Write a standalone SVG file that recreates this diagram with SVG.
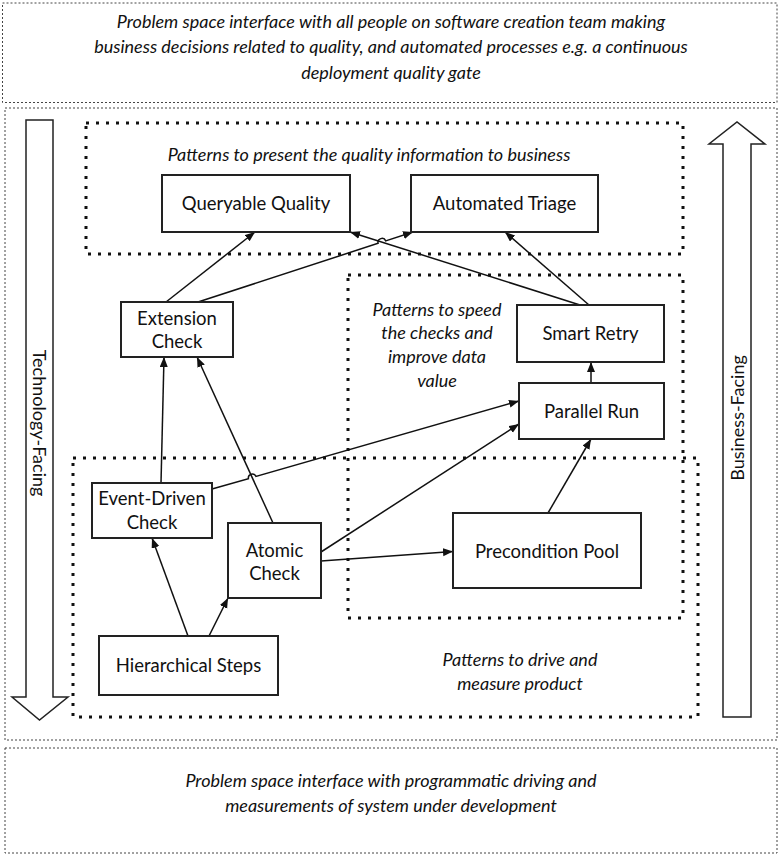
<svg xmlns="http://www.w3.org/2000/svg" width="781" height="858" viewBox="0 0 781 858">
<style>
.fine{fill:none;stroke:#444;stroke-width:1;stroke-dasharray:2 2}
.heavy{fill:none;stroke:#111;stroke-width:3;stroke-dasharray:3 7}
.node rect{fill:#fff;stroke:#222;stroke-width:2}
.node text{font-family:Lato,"Open Sans",sans-serif;font-size:18.5px;fill:#111;text-anchor:middle}
.lbl{font-family:Lato,"Open Sans",sans-serif;font-style:italic;font-size:18px;fill:#111;text-anchor:middle}
.ifc{font-size:18px}
.big{fill:#fff;stroke:#222;stroke-width:1.5}
.side{font-family:Lato,"Open Sans",sans-serif;font-size:18px;fill:#111;text-anchor:middle}
#connectors path{fill:none;stroke:#111;stroke-width:1.5}
</style>
<defs>
<marker id="ah" markerUnits="userSpaceOnUse" markerWidth="11" markerHeight="9" refX="10" refY="4" orient="auto"><path d="M0,0 L10,4 L0,8 z" fill="#111"/></marker>
</defs>
<rect width="781" height="858" fill="#fff"/>
<g id="top-interface">
<rect class="fine" x="2.5" y="3" width="774.5" height="99.5"/>
<text class="lbl ifc" x="391" y="28">Problem space interface with all people on software creation team making</text>
<text class="lbl ifc" x="391" y="53">business decisions related to quality, and automated processes e.g. a continuous</text>
<text class="lbl ifc" x="391" y="79">deployment quality gate</text>
</g>
<g id="middle-frame"><rect class="fine" x="5" y="108" width="772" height="632"/></g>
<g id="bottom-interface">
<rect class="fine" x="5" y="748" width="772" height="105"/>
<text class="lbl ifc" x="391" y="787">Problem space interface with programmatic driving and</text>
<text class="lbl ifc" x="391" y="812">measurements of system under development</text>
</g>
<g id="technology-facing">
<polygon class="big" points="26,120 53,120 53,697 68,697 39.5,720 12,697 26,697"/>
<text class="side" transform="translate(39.5,423) rotate(90)" y="6.5">Technology-Facing</text>
</g>
<g id="business-facing">
<polygon class="big" points="723,717 751,717 751,144 765,144 737,122 709,144 723,144"/>
<text class="side" transform="translate(737,418) rotate(-90)" y="6.5">Business-Facing</text>
</g>
<g id="group-present">
<rect class="heavy" x="86" y="123" width="597" height="131"/>
<text class="lbl" x="369" y="161">Patterns to present the quality information to business</text>
</g>
<g id="group-speed">
<rect class="heavy" x="348" y="275" width="335" height="343"/>
<text class="lbl" x="437" y="316">Patterns to speed</text>
<text class="lbl" x="437" y="339">the checks and</text>
<text class="lbl" x="437" y="363">improve data</text>
<text class="lbl" x="437" y="387">value</text>
</g>
<g id="group-drive">
<rect class="heavy" x="73" y="458" width="625" height="259"/>
<text class="lbl" x="520" y="666">Patterns to drive and</text>
<text class="lbl" x="520" y="690">measure product</text>
</g>
<g id="connectors">
<path d="M166,302 L255,232" marker-end="url(#ah)"/>
<path d="M198,302 L378.1,243.3 A4,4 0 0 1 385.7,240.9 L413,232" marker-end="url(#ah)"/>
<path d="M580,305 L350,232" marker-end="url(#ah)"/>
<path d="M589,305 L505,232" marker-end="url(#ah)"/>
<path d="M591,383 L591,362" marker-end="url(#ah)"/>
<path d="M161,483 L164,357" marker-end="url(#ah)"/>
<path d="M273,523 L197,357" marker-end="url(#ah)"/>
<path d="M212,489 L248.4,478.6 A4,4 0 0 1 256,476.4 L519,401" marker-end="url(#ah)"/>
<path d="M321,552 L519,424" marker-end="url(#ah)"/>
<path d="M321,561 L453,551.5" marker-end="url(#ah)"/>
<path d="M548,513 L591,439" marker-end="url(#ah)"/>
<path d="M188,636 L152,538" marker-end="url(#ah)"/>
<path d="M209,636 L228,598" marker-end="url(#ah)"/>
</g>
<g id="queryable-quality" class="node"><rect x="162" y="175" width="188" height="57"/><text x="256" y="210">Queryable Quality</text></g>
<g id="automated-triage" class="node"><rect x="411" y="175" width="187" height="57"/><text x="504.5" y="210">Automated Triage</text></g>
<g id="extension-check" class="node"><rect x="121" y="302" width="112" height="55"/><text x="177" y="324.5">Extension</text><text x="177" y="347.5">Check</text></g>
<g id="smart-retry" class="node"><rect x="517" y="305" width="147" height="57"/><text x="590.5" y="339.5">Smart Retry</text></g>
<g id="parallel-run" class="node"><rect x="519" y="383" width="145" height="56"/><text x="591.5" y="417.5">Parallel Run</text></g>
<g id="event-driven-check" class="node"><rect x="92" y="483" width="120" height="55"/><text x="152" y="504.5">Event-Driven</text><text x="152" y="528.5">Check</text></g>
<g id="atomic-check" class="node"><rect x="228" y="523" width="93" height="75"/><text x="274.5" y="556.5">Atomic</text><text x="274.5" y="579.5">Check</text></g>
<g id="precondition-pool" class="node"><rect x="453" y="513" width="188" height="75"/><text x="547" y="557.5">Precondition Pool</text></g>
<g id="hierarchical-steps" class="node"><rect x="99" y="636" width="179" height="59"/><text x="188.5" y="671.5">Hierarchical Steps</text></g>
</svg>
